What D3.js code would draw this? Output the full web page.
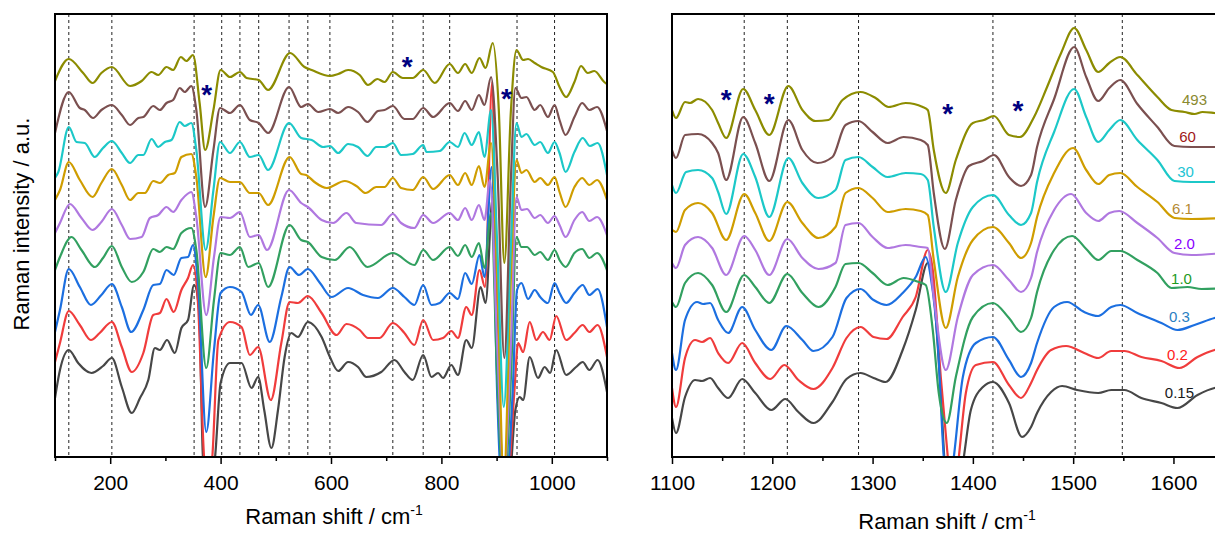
<!DOCTYPE html>
<html>
<head>
<meta charset="utf-8">
<script src="https://cdn.jsdelivr.net/npm/d3@7"></script>
<style>
  body { margin: 0; background: #fff; }
  text { font-family: Arial, "Liberation Sans", sans-serif; }
</style>
</head>
<body>
<div id="chart"></div>
<script>
// ---- data: [wavenumber (cm-1), intensity (a.u.)] ----
var seriesNames = ['493', '60', '30', '6.1', '2.0', '1.0', '0.3', '0.2', '0.15'];
var lineColors = ['#8c8c00', '#7b5050', '#1cc8c8', '#cf9d00', '#b078e0', '#32a060', '#1c6fe0', '#f03c3c', '#474747'];
var labelColors = ['#8a8a30', '#a01818', '#22c4d4', '#b48a34', '#8a00ff', '#1e9a1e', '#2a80c2', '#ff2020', '#1a1a1a'];

var leftTicks = [100, 200, 300, 400, 500, 600, 700, 800, 900, 1000, 1100];
var rightTicks = [1100, 1150, 1200, 1250, 1300, 1350, 1400, 1450, 1500, 1550, 1600, 1650];
var leftDashes = [125, 203, 352, 402, 435, 469, 524, 558, 598, 712, 767, 815, 937, 1005];
var rightDashes = [1172, 1215, 1286, 1420, 1502, 1549];

var leftStars = [[375, 369], [738, 397], [918, 365]];
var rightStars = [[1154, 364], [1197, 360], [1375, 350], [1445, 353]];
// label centres, same units as the spectra
var labelPos = [[1621, 357], [1614, 320], [1612, 285], [1609, 248], [1611, 213], [1608, 178], [1606, 140], [1604, 102], [1606, 64]];

var left493 = [[100,376],[125,398],[151,384],[168,374],[184,384],[203,390],[236,371],[257,376],[275,385],[287,382],[302,390],[314,387],[328,400],[338,396],[350,402],[362,354],[372,307],[387,347],[400,387],[417,380],[435,385],[447,379],[469,377],[486,367],[526,404],[552,390],[565,387],[598,381],[613,383],[631,387],[652,382],[667,372],[684,378],[697,375],[712,385],[730,379],[748,379],[767,387],[788,374],[815,393],[830,384],[843,393],[855,384],[869,399],[880,389],[893,414],[904,347],[914,194],[926,347],[936,407],[948,397],[957,398],[969,394],[981,390],[1002,385],[1014,370],[1026,360],[1041,375],[1053,391],[1065,384],[1077,386],[1095,375],[1100,373]];
var left60 = [[100,324],[125,365],[145,349],[154,347],[169,339],[184,347],[203,352],[221,342],[236,332],[251,339],[260,340],[278,351],[290,347],[302,354],[314,357],[326,369],[335,365],[347,371],[356,347],[372,250],[387,307],[399,349],[417,344],[435,352],[453,337],[469,334],[486,324],[524,370],[546,350],[558,353],[577,345],[598,348],[613,344],[631,350],[649,345],[666,335],[685,346],[697,347],[712,351],[733,338],[748,338],[767,349],[785,340],[815,354],[830,346],[843,356],[855,347],[868,362],[878,352],[890,380],[902,280],[914,99],[926,280],[934,369],[945,359],[954,360],[969,347],[979,352],[993,340],[1005,352],[1014,337],[1025,322],[1041,340],[1055,354],[1068,347],[1082,350],[1100,326]];
var left30 = [[100,279],[106,285],[125,330],[139,315],[154,314],[172,300],[187,309],[203,316],[221,304],[236,294],[251,302],[260,302],[275,318],[287,310],[299,315],[311,317],[326,335],[335,331],[347,334],[356,307],[373,207],[387,267],[399,315],[417,304],[435,315],[453,300],[469,302],[486,287],[524,334],[546,319],[565,317],[586,310],[598,311],[613,304],[631,313],[649,310],[666,301],[682,310],[697,310],[712,314],[727,302],[748,303],[767,312],[773,305],[797,306],[815,315],[830,310],[842,324],[855,312],[868,325],[878,300],[890,347],[901,214],[913,50],[926,214],[936,334],[945,320],[954,323],[969,312],[979,315],[993,304],[1005,315],[1014,304],[1025,285],[1041,305],[1056,319],[1069,311],[1083,314],[1100,282]];
var left61 = [[100,257],[109,267],[125,295],[145,277],[168,260],[184,274],[203,288],[221,272],[236,257],[251,264],[263,264],[278,276],[290,274],[305,282],[317,284],[329,300],[347,303],[356,280],[373,180],[387,240],[399,279],[417,275],[435,275],[453,264],[469,264],[486,252],[525,300],[546,283],[555,282],[570,275],[592,269],[625,276],[646,271],[663,264],[682,270],[697,270],[712,279],[727,269],[748,267],[767,280],[785,268],[815,282],[830,272],[843,284],[855,272],[868,291],[878,270],[890,314],[901,180],[913,-20],[926,180],[936,297],[945,284],[954,287],[969,275],[979,279],[993,272],[1005,280],[1014,265],[1025,250],[1041,270],[1055,279],[1068,272],[1082,277],[1100,257]];
var left20 = [[100,224],[109,234],[127,253],[148,239],[168,227],[184,235],[203,248],[221,232],[236,218],[257,220],[272,239],[287,242],[302,250],[314,245],[329,257],[347,265],[356,240],[374,142],[388,200],[400,240],[417,239],[435,245],[453,220],[469,222],[484,207],[524,267],[546,254],[558,250],[583,237],[604,234],[628,244],[646,234],[691,232],[712,243],[727,234],[751,229],[767,242],[785,234],[815,244],[830,237],[843,249],[855,237],[868,252],[878,237],[888,277],[901,114],[913,-20],[926,114],[936,260],[945,247],[955,248],[969,239],[979,242],[993,234],[1005,241],[1014,232],[1025,220],[1041,237],[1055,245],[1068,236],[1082,240],[1100,222]];
var left10 = [[100,187],[109,200],[130,220],[148,207],[172,190],[187,199],[203,211],[221,190],[239,175],[260,185],[278,208],[290,205],[302,210],[314,208],[329,224],[347,229],[356,207],[374,89],[388,157],[400,204],[417,202],[435,210],[450,190],[469,194],[486,170],[525,232],[546,217],[558,215],[583,200],[607,197],[634,210],[666,190],[712,204],[751,192],[767,207],[785,197],[815,210],[830,201],[843,212],[855,200],[868,214],[878,189],[890,244],[901,80],[913,-36],[926,80],[936,220],[945,210],[955,210],[969,202],[979,205],[993,197],[1005,207],[1014,197],[1025,190],[1041,204],[1055,208],[1068,199],[1082,204],[1100,187]];
var left03 = [[100,125],[109,147],[125,188],[145,170],[165,152],[184,162],[203,173],[221,150],[238,125],[260,147],[278,172],[290,173],[302,187],[315,182],[329,199],[341,200],[350,212],[359,174],[374,25],[388,107],[400,164],[417,170],[438,165],[455,142],[468,152],[489,115],[510,160],[525,190],[542,182],[558,188],[580,174],[601,160],[631,169],[658,162],[685,159],[712,169],[733,160],[751,152],[767,172],[782,152],[797,154],[815,164],[830,158],[843,184],[855,173],[869,202],[878,180],[891,290],[901,64],[913,-53],[929,64],[937,167],[945,174],[957,158],[969,167],[979,160],[993,154],[1005,174],[1014,164],[1026,154],[1041,164],[1056,172],[1068,162],[1083,168],[1100,130]];
var left02 = [[100,95],[109,114],[125,146],[145,132],[165,117],[181,124],[203,135],[221,110],[239,85],[260,104],[278,142],[290,144],[302,158],[315,145],[329,167],[341,179],[350,192],[359,154],[370,0],[377,-36],[385,0],[396,117],[417,135],[438,130],[453,102],[468,110],[491,57],[510,114],[525,155],[540,154],[558,161],[583,144],[610,122],[628,133],[652,127],[667,119],[688,119],[712,134],[733,124],[751,112],[767,137],[785,117],[803,119],[818,126],[830,119],[845,150],[855,142],[869,187],[879,170],[892,375],[902,64],[916,-53],[932,64],[939,114],[948,105],[960,135],[972,117],[984,125],[996,117],[1008,141],[1026,117],[1041,124],[1056,132],[1068,125],[1083,132],[1100,100]];
var left015 = [[100,59],[109,87],[125,107],[142,94],[166,84],[187,91],[203,99],[221,70],[239,44],[254,59],[269,77],[281,109],[290,107],[303,117],[317,104],[329,129],[341,137],[352,172],[361,147],[368,0],[377,-36],[390,0],[400,74],[417,94],[438,94],[456,69],[468,80],[479,47],[492,9],[504,47],[516,100],[528,124],[540,120],[558,135],[583,120],[598,100],[613,86],[631,95],[649,90],[664,80],[691,85],[715,97],[733,85],[748,77],[767,102],[782,80],[794,84],[803,79],[818,92],[830,82],[845,117],[855,109],[871,170],[880,154],[893,260],[905,47],[919,-53],[934,47],[942,60],[948,57],[960,100],[975,79],[987,90],[997,84],[1008,107],[1026,82],[1044,90],[1056,95],[1068,87],[1083,97],[1100,65]];

var right493 = [[1100,347],[1104,339],[1113,355],[1118,354],[1126,358],[1140,347],[1146,334],[1154,319],[1171,368],[1183,347],[1197,322],[1216,371],[1230,347],[1243,336],[1256,337],[1270,357],[1288,365],[1303,359],[1316,350],[1333,354],[1350,350],[1355,347],[1361,307],[1373,264],[1383,297],[1400,334],[1411,337],[1421,341],[1436,322],[1447,320],[1461,340],[1474,370],[1488,404],[1501,429],[1513,407],[1525,385],[1536,394],[1547,400],[1564,382],[1584,360],[1598,347],[1611,345],[1621,343],[1629,345],[1641,344],[1650,343]];
var right60 = [[1100,307],[1104,299],[1113,322],[1126,323],[1140,314],[1146,304],[1154,277],[1171,340],[1183,314],[1197,276],[1216,337],[1230,307],[1245,294],[1260,300],[1273,332],[1286,336],[1300,325],[1315,314],[1331,320],[1348,317],[1355,312],[1361,264],[1372,208],[1383,257],[1396,291],[1410,296],[1421,302],[1436,280],[1448,271],[1458,282],[1464,310],[1481,358],[1501,410],[1513,380],[1525,356],[1536,369],[1547,377],[1564,353],[1584,330],[1601,311],[1618,310],[1650,310]];
var right30 = [[1100,272],[1104,264],[1114,285],[1126,287],[1140,279],[1146,265],[1154,243],[1171,303],[1183,280],[1197,240],[1216,299],[1230,274],[1246,259],[1263,267],[1273,297],[1286,300],[1300,290],[1315,280],[1333,284],[1348,283],[1355,277],[1361,230],[1373,165],[1385,214],[1400,250],[1420,262],[1436,242],[1448,232],[1458,244],[1464,275],[1481,325],[1501,368],[1513,340],[1525,315],[1536,327],[1547,337],[1564,317],[1584,297],[1601,276],[1618,275],[1650,275]];
var right61 = [[1100,227],[1104,225],[1113,247],[1126,254],[1140,244],[1154,217],[1172,263],[1183,244],[1197,216],[1215,255],[1230,234],[1246,219],[1263,230],[1273,264],[1286,269],[1300,259],[1315,245],[1333,248],[1348,246],[1355,242],[1361,197],[1373,129],[1385,180],[1400,217],[1420,230],[1436,214],[1448,199],[1458,214],[1464,240],[1481,284],[1500,309],[1513,287],[1525,273],[1536,282],[1547,284],[1564,270],[1584,255],[1601,239],[1618,238],[1650,239]];
var right20 = [[1100,194],[1104,189],[1113,212],[1126,220],[1140,209],[1154,182],[1172,221],[1183,207],[1197,182],[1215,218],[1230,199],[1246,188],[1263,194],[1273,232],[1286,234],[1300,220],[1315,209],[1333,212],[1348,210],[1355,209],[1361,160],[1373,87],[1385,140],[1400,182],[1420,192],[1436,177],[1448,165],[1458,179],[1464,205],[1481,247],[1498,263],[1513,244],[1525,236],[1536,244],[1546,246],[1564,234],[1584,219],[1601,204],[1618,202],[1650,204]];
var right10 = [[1100,155],[1104,150],[1113,174],[1126,184],[1140,172],[1154,145],[1172,182],[1183,170],[1197,154],[1215,183],[1230,164],[1246,150],[1263,170],[1273,193],[1286,194],[1300,184],[1315,172],[1331,179],[1346,175],[1353,172],[1360,127],[1366,64],[1374,34],[1383,80],[1400,140],[1420,154],[1436,139],[1448,125],[1458,139],[1464,165],[1481,207],[1499,221],[1513,208],[1525,197],[1538,206],[1547,206],[1564,197],[1584,184],[1598,169],[1614,170],[1628,168],[1650,169]];
var right03 = [[1100,104],[1104,87],[1113,137],[1125,155],[1131,153],[1138,154],[1146,137],[1156,124],[1170,150],[1183,127],[1199,107],[1214,131],[1230,117],[1241,106],[1260,120],[1274,159],[1288,168],[1301,157],[1314,152],[1330,164],[1343,180],[1353,200],[1358,180],[1365,114],[1371,0],[1376,-36],[1381,0],[1390,80],[1403,114],[1420,120],[1436,97],[1448,80],[1458,94],[1464,114],[1481,150],[1494,155],[1511,145],[1525,141],[1538,150],[1547,152],[1564,144],[1588,134],[1604,127],[1621,132],[1641,139],[1650,141]];
var right02 = [[1100,69],[1104,50],[1113,99],[1123,117],[1130,115],[1138,119],[1146,104],[1156,94],[1170,114],[1183,94],[1198,78],[1212,92],[1226,77],[1241,68],[1260,89],[1274,119],[1288,130],[1301,120],[1314,118],[1330,140],[1343,160],[1355,207],[1360,187],[1368,80],[1375,0],[1380,-53],[1386,0],[1393,64],[1403,92],[1420,95],[1436,72],[1448,59],[1458,74],[1464,87],[1478,107],[1493,111],[1511,104],[1525,99],[1538,106],[1551,106],[1568,100],[1588,96],[1606,89],[1624,100],[1641,107],[1650,109]];
var right015 = [[1100,39],[1104,24],[1113,60],[1123,77],[1130,76],[1138,79],[1146,69],[1156,59],[1170,78],[1183,64],[1199,47],[1213,58],[1226,45],[1241,34],[1260,55],[1274,78],[1288,84],[1301,79],[1313,75],[1330,107],[1343,147],[1355,194],[1360,174],[1368,64],[1373,-20],[1383,-53],[1391,0],[1398,47],[1410,70],[1420,75],[1436,54],[1449,20],[1458,30],[1464,44],[1478,65],[1489,71],[1504,67],[1525,64],[1538,67],[1551,67],[1568,59],[1588,54],[1604,49],[1624,62],[1641,69],[1650,70]];

var leftSeries = [left493, left60, left30, left61, left20, left10, left03, left02, left015];
var rightSeries = [right493, right60, right30, right61, right20, right10, right03, right02, right015];

// ---- layout ----
var W = 1215, H = 535;
var svg = d3.select('#chart').append('svg')
    .attr('width', W)
    .attr('height', H)
    .style('background-color', '#fff');

var y = d3.scaleLinear().domain([0, 443]).range([457, 14]);
var xL = d3.scaleLinear().domain([100, 1100]).range([55, 607]);
var xR = d3.scaleLinear().domain([1100, 1650]).range([672, 1223.6]);

function drawPanel(id, x, series, dashes, ticks, isLabelled, stars, boxed) {
    var x0 = x.range()[0], x1 = x.range()[1];
    var top = y.range()[1], bottom = y.range()[0];

    svg.append('clipPath').attr('id', id)
        .append('rect')
        .attr('x', x0).attr('y', top)
        .attr('width', x1 - x0).attr('height', bottom - top);

    // dotted reference lines
    svg.append('g').selectAll('line')
        .data(dashes)
        .enter().append('line')
        .attr('x1', function (d) { return x(d); })
        .attr('x2', function (d) { return x(d); })
        .attr('y1', top).attr('y2', bottom)
        .attr('stroke', '#222')
        .attr('stroke-width', 1)
        .attr('stroke-dasharray', '3,3');

    var line = d3.line()
        .x(function (d) { return x(d[0]); })
        .y(function (d) { return y(d[1]); })
        .curve(d3.curveMonotoneX);

    // lowest trace first so the top one sits over the others
    var g = svg.append('g').attr('clip-path', 'url(#' + id + ')');
    for (var i = series.length - 1; i >= 0; i--) {
        g.append('path')
            .datum(series[i])
            .attr('fill', 'none')
            .attr('stroke', lineColors[i])
            .attr('stroke-width', 2.2)
            .attr('stroke-linejoin', 'round')
            .attr('d', line);
    }

    // frame
    if (boxed) {
        svg.append('rect')
            .attr('x', x0).attr('y', top)
            .attr('width', x1 - x0).attr('height', bottom - top)
            .attr('fill', 'none')
            .attr('stroke', '#000')
            .attr('stroke-width', 2);
    } else {
        svg.append('path')
            .attr('d', 'M' + x1 + ',' + top + 'H' + x0 + 'V' + bottom + 'H' + x1)
            .attr('fill', 'none')
            .attr('stroke', '#000')
            .attr('stroke-width', 2);
    }

    // x axis
    var axis = d3.axisBottom(x)
        .tickValues(ticks)
        .tickSizeOuter(0)
        .tickFormat(function (d) { return isLabelled(d) ? d : ''; });
    var ax = svg.append('g')
        .attr('transform', 'translate(0,' + bottom + ')')
        .call(axis);
    ax.select('.domain').remove();
    ax.selectAll('.tick line')
        .attr('stroke', '#000')
        .attr('stroke-width', 1.5)
        .attr('y2', function (d) { return isLabelled(d) ? 7 : 4; });
    ax.selectAll('.tick text')
        .attr('y', 33)
        .attr('dy', null)
        .attr('fill', '#000')
        .style('font-size', '21px');

    // asterisks
    svg.append('g').selectAll('text')
        .data(stars)
        .enter().append('text')
        .attr('x', function (d) { return x(d[0]); })
        .attr('y', function (d) { return y(d[1]); })
        .attr('dy', '0.56em')
        .attr('text-anchor', 'middle')
        .style('font-size', '28px')
        .style('font-weight', 'bold')
        .attr('fill', '#000080')
        .text('*');
}

drawPanel('clipL', xL, leftSeries, leftDashes, leftTicks,
    function (d) { return d % 200 === 0; }, leftStars, true);
drawPanel('clipR', xR, rightSeries, rightDashes, rightTicks,
    function (d) { return d % 100 === 0 && d < 1650; }, rightStars, false);

// concentration labels on the right panel
svg.append('g').selectAll('text')
    .data(seriesNames)
    .enter().append('text')
    .attr('x', function (d, i) { return xR(labelPos[i][0]); })
    .attr('y', function (d, i) { return y(labelPos[i][1]); })
    .attr('dy', '0.35em')
    .attr('text-anchor', 'middle')
    .style('font-size', '15px')
    .attr('fill', function (d, i) { return labelColors[i]; })
    .text(function (d) { return d; });

// axis titles
function xTitle(cx, baseline) {
    var t = svg.append('text')
        .attr('x', cx).attr('y', baseline)
        .attr('text-anchor', 'middle')
        .style('font-size', '22px')
        .attr('fill', '#000');
    t.append('tspan').text('Raman shift / cm');
    t.append('tspan').attr('dy', -9).style('font-size', '14px').text('-1');
}
xTitle(334, 524);
xTitle(947, 529);

svg.append('text')
    .attr('transform', 'translate(29,224) rotate(-90)')
    .attr('text-anchor', 'middle')
    .style('font-size', '22px')
    .attr('fill', '#000')
    .text('Raman intensity / a.u.');
</script>
</body>
</html>
